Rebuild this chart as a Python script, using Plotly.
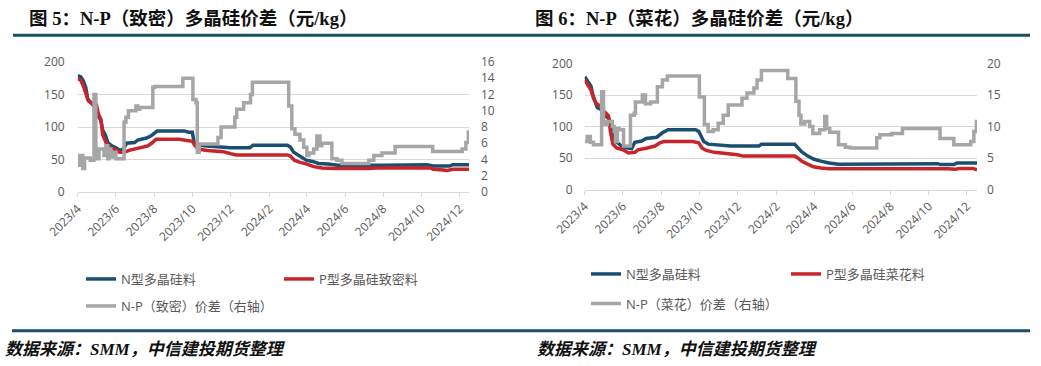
import plotly.graph_objects as go

W, H = 1041, 366

# ---------------- data: 图5 (致密) ----------------
L_N_DATES = ["2023-04-01","2023-04-06","2023-04-10","2023-04-14","2023-04-17","2023-04-24","2023-04-28",
             "2023-05-01","2023-05-05","2023-05-08","2023-05-11","2023-05-15","2023-05-19","2023-05-24",
             "2023-06-01","2023-06-08","2023-06-13","2023-06-18","2023-07-01","2023-07-06","2023-07-20",
             "2023-07-28","2023-08-06","2023-09-18","2023-09-25","2023-10-01","2023-10-04","2023-10-10",
             "2023-10-20","2023-11-10","2023-12-01","2024-01-01","2024-01-06","2024-03-01","2024-03-06",
             "2024-03-11","2024-03-20","2024-03-31","2024-04-10","2024-04-20","2024-05-05","2024-05-20",
             "2024-08-01","2024-10-10","2024-10-20","2024-11-15","2024-11-20","2024-12-16"]
L_N_VALS = [179,177,171,160,143,136,131,128,115,110,95,88,76,72,68,64,66,75,76,80,83,87,94,94,92,92,
            76,73,71,70,68,68,72,72,69,61,56,49,47,44,43,41,41,42,40,40,42,42]

L_P_DATES = ["2023-04-01","2023-04-06","2023-04-10","2023-04-15","2023-04-18","2023-04-24","2023-05-01",
             "2023-05-04","2023-05-08","2023-05-11","2023-05-17","2023-05-24","2023-06-01","2023-06-07",
             "2023-06-14","2023-06-22","2023-07-01","2023-07-10","2023-07-22","2023-07-28","2023-08-04",
             "2023-09-10","2023-09-20","2023-10-01","2023-10-05","2023-10-10","2023-10-25","2023-11-20",
             "2023-12-01","2023-12-10","2024-03-01","2024-03-06","2024-03-12","2024-03-20","2024-04-01",
             "2024-04-12","2024-04-25","2024-05-15","2024-07-10","2024-07-20","2024-10-15","2024-10-20",
             "2024-11-05","2024-11-12","2024-11-20","2024-12-16"]
L_P_VALS = [174,172,163,148,140,136,134,120,112,88,74,67,65,61,61,64,66,69,71,75,81,81,79,78,72,66,
            64,62,59,57,57,55,49,46,43,39,37,36,36,37,37,35,34,33,35,35]

L_S_DATES = ["2023-04-01","2023-04-04","2023-04-09","2023-04-12","2023-04-21","2023-04-27","2023-04-30",
             "2023-05-05","2023-05-13","2023-05-16","2023-05-19","2023-05-21","2023-05-24","2023-05-29",
             "2023-06-01","2023-06-14","2023-06-17","2023-06-21","2023-07-03","2023-07-06","2023-07-09",
             "2023-07-30","2023-08-02","2023-09-16","2023-10-02","2023-10-07","2023-10-09","2023-10-12",
             "2023-11-11","2023-11-16","2023-12-08","2023-12-11","2023-12-22","2024-01-02","2024-01-05",
             "2024-03-03","2024-03-08","2024-03-13","2024-03-21","2024-03-27","2024-04-01","2024-04-04",
             "2024-04-12","2024-04-17","2024-04-22","2024-04-25","2024-05-11","2024-05-19","2024-05-27",
             "2024-07-09","2024-07-17","2024-07-30","2024-08-20","2024-10-19","2024-12-05","2024-12-11",
             "2024-12-15","2024-12-16"]
L_S_VALS = [3.3,4.5,2.9,4.2,3.9,12.0,4.1,5.3,4.5,5.7,4.1,5.3,4.3,4.9,4.1,8.6,9.2,10.0,10.6,10.2,10.4,
            12.9,13.0,14.0,11.4,11.0,4.9,5.9,6.7,8.0,9.2,10.2,11.0,12.0,13.5,10.6,7.8,7.1,6.4,5.5,4.5,
            4.8,5.3,6.9,5.7,6.0,4.1,3.9,3.5,3.9,4.5,4.8,5.6,5.0,5.3,6.1,7.4,7.4]

# ---------------- data: 图6 (菜花) ----------------
R_N_DATES = ["2023-04-01","2023-04-06","2023-04-11","2023-04-14","2023-04-17","2023-04-21","2023-04-29",
             "2023-05-04","2023-05-10","2023-05-13","2023-05-18","2023-05-25","2023-06-01","2023-06-15",
             "2023-06-20","2023-07-01","2023-07-08","2023-07-25","2023-08-03","2023-08-12","2023-09-25",
             "2023-09-30","2023-10-03","2023-10-08","2023-10-15","2023-11-05","2023-11-20","2024-01-04",
             "2024-01-08","2024-03-01","2024-03-06","2024-03-12","2024-03-22","2024-04-01","2024-04-12",
             "2024-04-25","2024-05-10","2024-07-10","2024-07-20","2024-10-15","2024-10-20","2024-11-10",
             "2024-11-15","2024-12-17"]
R_N_VALS = [179,172,164,150,140,130,126,117,112,97,78,73,67,65,75,77,81,83,90,95,95,92,86,76,72,71,69,
            69,72,72,66,60,53,48,45,42,40,40,41,41,39.5,39.5,42,42]

R_P_DATES = ["2023-04-01","2023-04-06","2023-04-11","2023-04-15","2023-04-19","2023-04-25","2023-05-01",
             "2023-05-09","2023-05-12","2023-05-16","2023-05-22","2023-06-01","2023-06-10","2023-06-20",
             "2023-06-25","2023-07-10","2023-07-22","2023-07-30","2023-08-05","2023-09-20","2023-09-30",
             "2023-10-05","2023-10-12","2023-10-25","2023-11-15","2023-12-01","2023-12-10","2024-03-01",
             "2024-03-06","2024-03-12","2024-03-20","2024-03-31","2024-04-12","2024-04-25","2024-11-01",
             "2024-11-12","2024-11-20","2024-12-10","2024-12-17"]
R_P_VALS = [174,165,158,145,137,133,125,117,92,72,66,63,58,59,63,66,69,74,76,76,74,66,62,59,57,55,53,
            53,50,45,41,36,34,33,33,32,33.5,33.5,31]

R_S_DATES = ["2023-04-01","2023-04-05","2023-04-10","2023-04-15","2023-04-28","2023-05-01","2023-05-03",
             "2023-05-07","2023-05-15","2023-05-18","2023-05-20","2023-05-23","2023-05-26","2023-06-02",
             "2023-06-13","2023-06-19","2023-06-21","2023-07-02","2023-07-07","2023-07-15","2023-07-26",
             "2023-08-03","2023-08-11","2023-10-01","2023-10-09","2023-10-15","2023-10-23","2023-10-31",
             "2023-11-08","2023-11-16","2023-12-08","2023-12-16","2023-12-27","2024-01-01","2024-01-08",
             "2024-02-19","2024-03-03","2024-03-08","2024-03-11","2024-03-17","2024-03-25","2024-03-30",
             "2024-04-10","2024-04-18","2024-04-21","2024-04-26","2024-05-10","2024-05-21","2024-05-29",
             "2024-07-10","2024-07-15","2024-08-03","2024-08-20","2024-10-19","2024-11-10","2024-12-07",
             "2024-12-12","2024-12-16","2024-12-17"]
R_S_VALS = [7.6,8.4,7.5,7.1,15.5,10.8,10.3,10.8,10.0,9.2,7.6,9.7,9.5,6.9,11.8,12.1,13.9,15.0,13.6,13.9,
            16.3,17.4,18.0,14.7,10.3,9.2,9.5,10.5,11.8,13.4,14.5,15.3,16.1,17.4,18.9,17.6,14.0,11.8,10.4,
            10.8,10.0,8.9,9.5,11.6,9.7,9.1,7.1,6.7,6.6,8.2,8.7,8.9,9.7,8.1,7.1,7.6,9.2,10.8,10.8]

TITLES = ["图 5：N-P（致密）多晶硅价差（元/kg）", "图 6：N-P（菜花）多晶硅价差（元/kg）"]
NAMES_L = ["N型多晶硅料", "P型多晶硅致密料", "N-P（致密）价差（右轴）"]
NAMES_R = ["N型多晶硅料", "P型多晶硅菜花料", "N-P（菜花）价差（右轴）"]
SOURCE = "数据来源：SMM，中信建投期货整理"
LEFT_TICKS = [0, 50, 100, 150, 200]
RIGHT_TICKS_L = [0, 2, 4, 6, 8, 10, 12, 14, 16]
RIGHT_TICKS_R = [0, 5, 10, 15, 20]

# ---------------- styles ----------------
BLUE = "#1B4F72"
RED = "#C8242B"
GRAY = "#A6A6A6"
RULE = "#1B4D6B"
GRID = "#D9D9D9"
TXT = "#595959"
FONT = "Open Sans, Noto Sans CJK SC, sans-serif"
LW = 3.5

def px_x(p): return p / W
def px_y(p): return 1 - p / H

fig = go.Figure()

def add_panel(sfx_x, sfx_y1, sfx_y2, nd, nv, pd_, pv, sd, sv, names, leg1, leg2):
    fig.add_trace(go.Scatter(x=nd, y=nv, name=names[0], mode="lines",
                             line=dict(color=BLUE, width=LW), xaxis=sfx_x, yaxis=sfx_y1, legend=leg1))
    fig.add_trace(go.Scatter(x=pd_, y=pv, name=names[1], mode="lines",
                             line=dict(color=RED, width=LW), xaxis=sfx_x, yaxis=sfx_y1, legend=leg1))
    fig.add_trace(go.Scatter(x=sd, y=sv, name=names[2], mode="lines",
                             line=dict(color=GRAY, width=LW, shape="hv"), xaxis=sfx_x, yaxis=sfx_y2, legend=leg2))

add_panel("x", "y", "y2", L_N_DATES, L_N_VALS, L_P_DATES, L_P_VALS, L_S_DATES, L_S_VALS, NAMES_L, "legend", "legend2")
add_panel("x2", "y3", "y4", R_N_DATES, R_N_VALS, R_P_DATES, R_P_VALS, R_S_DATES, R_S_VALS, NAMES_R, "legend3", "legend4")

tickfont = dict(family=FONT, size=12, color=TXT)

def xaxis(dom, rng, anchor):
    return dict(domain=dom, range=rng, type="date", anchor=anchor, tick0="2023-04-01", dtick="M2",
                tickformat="%Y/%-m", tickangle=-45, showgrid=False, showline=True, linecolor=GRID,
                linewidth=1, ticks="outside", ticklen=4, tickcolor=GRID, tickfont=tickfont, zeroline=False,
                fixedrange=True, automargin=False)

def yleft(dom, anchor, ticks, so):
    return dict(domain=dom, range=[0, ticks[-1]], tickvals=ticks, anchor=anchor, showgrid=True,
                gridcolor=GRID, gridwidth=1, zeroline=False, showline=False, tickfont=tickfont,
                ticklabelstandoff=so, fixedrange=True, automargin=False)

def yright(over, anchor, ticks, so):
    return dict(overlaying=over, side="right", anchor=anchor, range=[0, ticks[-1]], tickvals=ticks,
                showgrid=False, zeroline=False, showline=False, tickfont=tickfont, ticklabelstandoff=so,
                fixedrange=True, automargin=False)

legfont = dict(family=FONT, size=13, color=TXT)
def leg(xp, yp, ew):
    return dict(x=px_x(xp), y=px_y(yp), xanchor="left", yanchor="middle", orientation="h",
                font=legfont, bgcolor="rgba(0,0,0,0)", entrywidth=ew, entrywidthmode="pixels",
                tracegroupgap=0, itemclick=False)

fig.update_layout(
    width=W, height=H, autosize=False, margin=dict(l=0, r=0, t=0, b=0, pad=0),
    paper_bgcolor="white", plot_bgcolor="white",
    xaxis=xaxis([px_x(77.7), px_x(469)], ["2023-04-01", "2024-12-16"], "y"),
    yaxis=yleft([px_y(192), px_y(62)], "x", LEFT_TICKS, 12),
    yaxis2=yright("y", "x", RIGHT_TICKS_L, 11),
    xaxis2=xaxis([px_x(584.7), px_x(977)], ["2023-04-01", "2024-12-17"], "y3"),
    yaxis3=yleft([px_y(189.5), px_y(63.5)], "x2", LEFT_TICKS, 11),
    yaxis4=yright("y3", "x2", RIGHT_TICKS_R, 9),
    legend=leg(81, 279, 153),
    legend2=leg(81, 306, 200),
    legend3=leg(586, 274, 155),
    legend4=leg(586, 303.5, 200),
    showlegend=True,
)

# titles
for xp, t in [(27, TITLES[0]), (533, TITLES[1])]:
    fig.add_annotation(x=px_x(xp), y=px_y(18), xref="paper", yref="paper", xanchor="left", yanchor="middle",
                       text="<b>" + t + "</b>", showarrow=False,
                       font=dict(family="Liberation Serif, Noto Sans CJK SC, serif", size=18.5, color="#111111"))
# source notes
for xp in [3, 535]:
    fig.add_annotation(x=px_x(xp), y=px_y(349), xref="paper", yref="paper", xanchor="left", yanchor="middle",
                       text="<b><i>" + SOURCE + "</i></b>", showarrow=False,
                       font=dict(family="Liberation Serif, Noto Sans CJK SC, serif", size=17, color="#111111"))
# rules
for yp, x0 in [(35.3, 13), (330.7, 12)]:
    fig.add_shape(type="line", xref="paper", yref="paper", x0=px_x(x0), x1=px_x(1030), y0=px_y(yp), y1=px_y(yp),
                  line=dict(color=RULE, width=3))

# remove the page's default body margin so the figure sits at the window's top-left corner
fig.write_html("out.html", config={"displayModeBar": False},
               post_script="document.body.style.margin='0';")
